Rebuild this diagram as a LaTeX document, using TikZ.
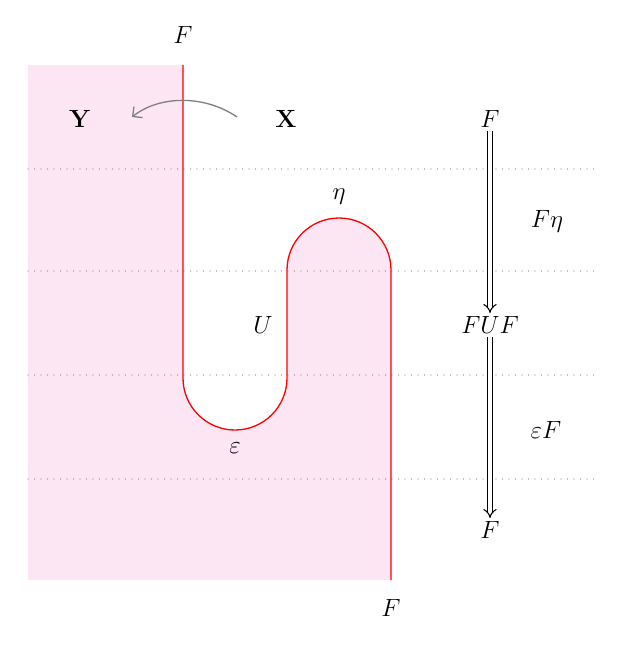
\documentclass[tikz,border=0pt]{standalone}
\usetikzlibrary{arrows.meta}
\begin{document}
\begin{tikzpicture}[x=1pt,y=-1pt,
  lbl/.style={font=\fontsize{30}{34}\selectfont},
  dline/.style={gray,line width=1.3pt,line cap=round,dash pattern=on 0pt off 6.5pt},
  dbl/.style={double,double distance=3.5pt,line width=1.1pt,-{Implies}}]
\useasboundingbox (0,0) rectangle (622,645);
\fill[magenta!10] (28,65) -- (183,65) -- (183,378) arc[start angle=180,end angle=0,radius=52] -- (287,270) arc[start angle=180,end angle=360,radius=52] -- (391,580) -- (28,580) -- cycle;
\foreach \y in {169,271,375,479} \draw[dline] (28,\y) -- (598,\y);
\draw[red,line width=1.3pt] (183,65) -- (183,378) arc[start angle=180,end angle=0,radius=52] -- (287,270) arc[start angle=180,end angle=360,radius=52] -- (391,580);
\node[lbl] (ft) at (183,35) {$F$};
\node[lbl] (y) at (80,119) {$\mathbf{Y}$};
\node[lbl] (x) at (286,119) {$\mathbf{X}$};
\coordinate (xa) at (237,117);
\coordinate (ya) at (132,117);
\draw[gray,line width=1.3pt,-{Straight Barb[length=7pt]}] (xa) .. controls (205,95) and (160,95) .. (ya);
\node[lbl] (eta) at (339,197) {$\eta$};
\node[lbl] (u) at (263,325) {$U$};
\node[lbl] (eps) at (235,448) {$\varepsilon$};
\node[lbl] (fb) at (391,608) {$F$};
\node[lbl] (f1) at (490,119) {$F$};
\node[lbl] (fuf) at (490,325) {$FUF$};
\node[lbl] (f2) at (490,530) {$F$};
\draw[dbl] (f1) -- (fuf);
\draw[dbl] (fuf) -- (f2);
\node[lbl] (feta) at (547,221) {$F\eta$};
\node[lbl] (epsf) at (546,430) {$\varepsilon F$};
\end{tikzpicture}
\end{document}
